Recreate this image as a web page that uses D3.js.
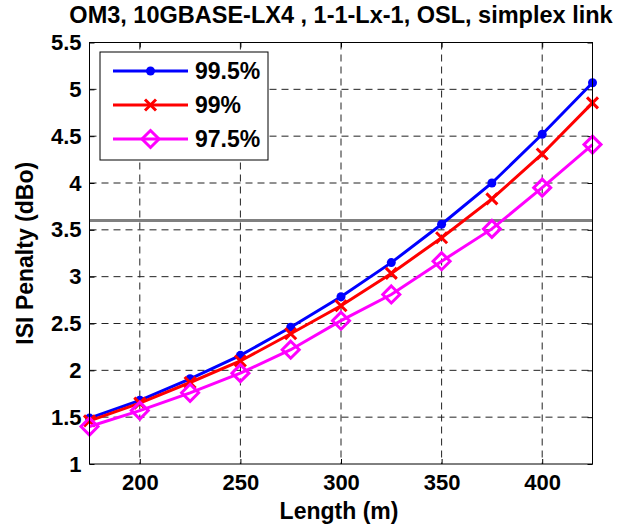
<!DOCTYPE html>
<html>
<head>
<meta charset="utf-8">
<script src="https://cdn.jsdelivr.net/npm/d3@7"></script>
<style>
  html, body { margin: 0; padding: 0; background: #fff; }
  svg { display: block; font-family: "Liberation Sans", Arial, sans-serif; font-weight: bold; }
</style>
</head>
<body>
<svg id="chart" width="617" height="527"></svg>
<script>
// Link length (m)
const lengths = [175, 200, 225, 250, 275, 300, 325, 350, 375, 400, 425];
// ISI penalty (dBo) per coverage percentile
const pen995 = [1.49, 1.68, 1.91, 2.16, 2.46, 2.785, 3.15, 3.56, 4.00, 4.52, 5.07];
const pen99  = [1.46, 1.65, 1.87, 2.10, 2.39, 2.69, 3.035, 3.415, 3.83, 4.31, 4.855];
const pen975 = [1.40, 1.57, 1.76, 1.97, 2.22, 2.53, 2.81, 3.165, 3.51, 3.95, 4.41];
const seriesNames = ["99.5%", "99%", "97.5%"];
const penaltyLimit = 3.6;
const xTicks = [200, 250, 300, 350, 400];
const yTicks = [1, 1.5, 2, 2.5, 3, 3.5, 4, 4.5, 5, 5.5];

const svg = d3.select("#chart");
const L = 89.5, R = 592.5, T = 42.5, B = 464;
const x = d3.scaleLinear().domain([175, 425]).range([L, R]);
const y = d3.scaleLinear().domain([1, 5.5]).range([B, T]);

const series = [
  { name: seriesNames[0], values: pen995, color: "#0000ff", marker: "dot" },
  { name: seriesNames[1], values: pen99,  color: "#ff0000", marker: "cross" },
  { name: seriesNames[2], values: pen975, color: "#ff00ff", marker: "diamond" }
];

// Title
svg.append("text")
  .attr("x", 341).attr("y", 23)
  .attr("text-anchor", "middle")
  .attr("font-size", 23.5)
  .text("OM3, 10GBASE-LX4 , 1-1-Lx-1, OSL, simplex link");

// Dashed grid
const grid = svg.append("g").attr("stroke", "#222").attr("stroke-width", 1).attr("stroke-dasharray", "7,5");
grid.selectAll("line.gx").data(xTicks).join("line")
  .attr("x1", d => x(d)).attr("x2", d => x(d)).attr("y1", T).attr("y2", B);
grid.selectAll("line.gy").data(yTicks.filter(v => v > 1 && v < 5.5)).join("line")
  .attr("x1", L).attr("x2", R).attr("y1", d => y(d)).attr("y2", d => y(d));

// Axes with inward ticks on all four sides
const axB = d3.axisBottom(x).tickValues(xTicks).tickSize(-5).tickPadding(10).tickFormat(d3.format("d"));
const axT = d3.axisTop(x).tickValues(xTicks).tickSize(-5).tickFormat("");
const axL = d3.axisLeft(y).tickValues(yTicks).tickSize(-5).tickPadding(8).tickFormat(d3.format("~g"));
const axR = d3.axisRight(y).tickValues(yTicks).tickSize(-5).tickFormat("");

function styleAxis(g) {
  g.select(".domain").remove();
  g.selectAll(".tick line").attr("stroke", "#000");
  g.selectAll("text").attr("font-size", 22).attr("fill", "#000")
    .attr("font-family", "Liberation Sans, Arial, sans-serif").attr("font-weight", "bold");
}
svg.append("g").attr("transform", `translate(0,${B})`).call(axB).call(styleAxis);
svg.append("g").attr("transform", `translate(0,${T})`).call(axT).call(styleAxis);
svg.append("g").attr("transform", `translate(${L},0)`).call(axL).call(styleAxis);
svg.append("g").attr("transform", `translate(${R},0)`).call(axR).call(styleAxis);

// Penalty limit
svg.append("line")
  .attr("x1", L).attr("x2", R).attr("y1", y(penaltyLimit)).attr("y2", y(penaltyLimit))
  .attr("stroke", "#808080").attr("stroke-width", 3);

// Series
const line = d3.line().x((d, i) => x(lengths[i])).y(d => y(d));
function drawMarker(g, type, color) {
  if (type === "dot") {
    g.append("circle").attr("r", 4.5).attr("fill", color);
  } else if (type === "cross") {
    const s = 5.5;
    g.append("path").attr("d", `M${-s},${-s}L${s},${s}M${-s},${s}L${s},${-s}`)
      .attr("stroke", color).attr("stroke-width", 3).attr("fill", "none");
  } else {
    const s = 8.5;
    g.append("path").attr("d", `M0,${-s}L${s},0L0,${s}L${-s},0Z`)
      .attr("stroke", color).attr("stroke-width", 3).attr("fill", "none");
  }
}
series.forEach(s => {
  svg.append("path").datum(s.values)
    .attr("d", line).attr("fill", "none")
    .attr("stroke", s.color).attr("stroke-width", 3);
  s.values.forEach((v, i) => {
    const g = svg.append("g").attr("transform", `translate(${x(lengths[i])},${y(v)})`);
    drawMarker(g, s.marker, s.color);
  });
});

// Frame
svg.append("rect").attr("x", L).attr("y", T).attr("width", R - L).attr("height", B - T)
  .attr("fill", "none").attr("stroke", "#000").attr("stroke-width", 1);

// Axis titles
svg.append("text")
  .attr("x", 339).attr("y", 519)
  .attr("text-anchor", "middle").attr("font-size", 23)
  .text("Length (m)");
svg.append("text")
  .attr("transform", `translate(33,${(T + B) / 2}) rotate(-90)`)
  .attr("text-anchor", "middle").attr("font-size", 23)
  .text("ISI Penalty (dBo)");

// Legend
const lg = svg.append("g");
lg.append("rect").attr("x", 100).attr("y", 52).attr("width", 168).attr("height", 108)
  .attr("fill", "#fff").attr("stroke", "#000").attr("stroke-width", 1);
series.forEach((s, i) => {
  const cy = 71 + i * 34;
  lg.append("line").attr("x1", 113).attr("x2", 188).attr("y1", cy).attr("y2", cy)
    .attr("stroke", s.color).attr("stroke-width", 3);
  drawMarker(lg.append("g").attr("transform", `translate(150.5,${cy})`), s.marker, s.color);
  lg.append("text").attr("x", 195).attr("y", cy).attr("dy", "0.36em")
    .attr("font-size", 23).text(s.name);
});
</script>
</body>
</html>
